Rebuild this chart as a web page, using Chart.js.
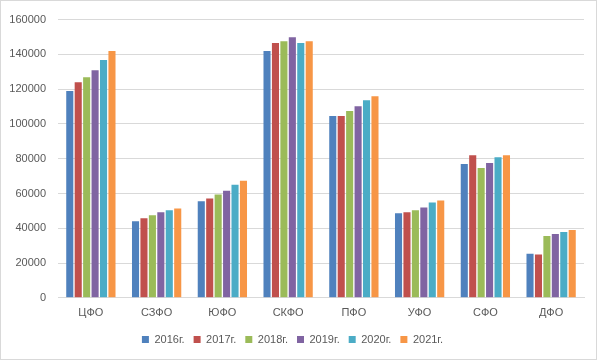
<!DOCTYPE html>
<html><head><meta charset="utf-8">
<script src="https://cdn.jsdelivr.net/npm/chart.js@4"></script>
<style>
html,body{margin:0;padding:0;background:#fff;}
#wrap{position:relative;width:595px;height:358px;border:1px solid #d9d9d9;}
</style></head>
<body><div id="wrap"><canvas id="c" width="595" height="358"></canvas></div>
<script>
const categories = ["ЦФО","СЗФО","ЮФО","СКФО","ПФО","УФО","СФО","ДФО"];
const seriesNames = ["2016г.","2017г.","2018г.","2019г.","2020г.","2021г."];
const v2016 = [119000, 44000, 55500, 142000, 104600, 48600, 77000, 25400];
const v2017 = [124000, 45800, 57100, 146500, 104600, 49200, 82000, 24900];
const v2018 = [126800, 47500, 59400, 147600, 107400, 50300, 74600, 35600];
const v2019 = [130800, 49200, 61600, 149800, 110200, 52000, 77500, 36700];
const v2020 = [136800, 50300, 65000, 146500, 113600, 54800, 80800, 37900];
const v2021 = [142000, 51400, 67300, 147600, 115900, 56000, 82000, 39000];
const yTicks = [0,20000,40000,60000,80000,100000,120000,140000,160000];
const colors = ["#4F81BD","#C0504D","#9BBB59","#8064A2","#4BACC6","#F79646"];
const all = [v2016,v2017,v2018,v2019,v2020,v2021];
Chart.defaults.font.family = "'Liberation Sans', Arial, sans-serif";
Chart.defaults.font.size = 11;
Chart.defaults.color = "#595959";
new Chart(document.getElementById('c'), {
  type: 'bar',
  data: {
    labels: categories,
    datasets: all.map((d,i)=>({label: seriesNames[i], data: d, backgroundColor: colors[i], borderWidth:0,
      categoryPercentage: 0.77, barPercentage: 0.84}))
  },
  options: {
    responsive: false, animation: false,
    layout: {padding: {top: 2, right: 12, left: 0, bottom: 4}},
    plugins: {
      tooltip: {enabled:false},
      legend: {position:'bottom', labels: {boxWidth:7, boxHeight:7, padding: 9, color:'#595959'}}
    },
    scales: {
      x: {grid: {display:false}, border: {color:'#d9d9d9'}, ticks: {padding: 1},
          afterFit: s => { s.height += 4; }},
      y: {min:0, max:160000, afterBuildTicks: s => { s.ticks = yTicks.map(v=>({value:v})); },
          afterFit: s => { s.width = 57; },
          grid: {color:'#d9d9d9', drawTicks:false}, border: {display:false},
          ticks: {padding: 12, callback: v => String(v)}}
    }
  }
});
</script></body></html>
